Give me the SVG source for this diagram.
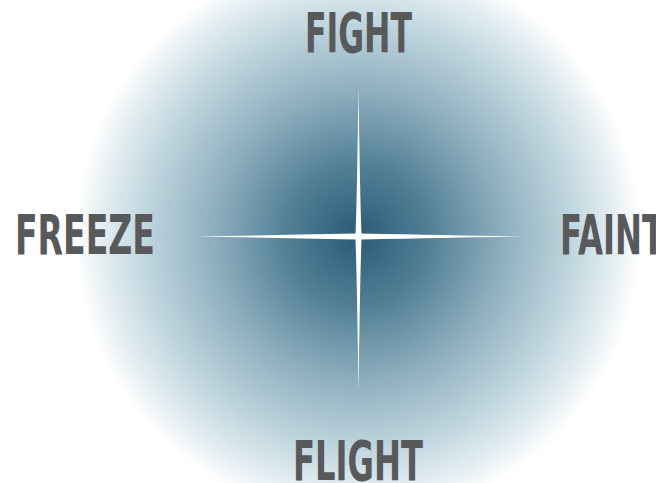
<svg xmlns="http://www.w3.org/2000/svg" width="656" height="483" viewBox="0 0 656 483">
<style>
.lbl{font-family:"Liberation Sans Narrow","DejaVu Sans Condensed","Liberation Sans",Arial,sans-serif;font-weight:bold;font-size:56px;fill:#58595b;font-stretch:condensed}
</style>
<defs>
<radialGradient id="glow" cx="358" cy="236" r="283" gradientUnits="userSpaceOnUse">
<stop offset="0" stop-color="#2a5b75"/>
<stop offset="0.25" stop-color="#527f96"/>
<stop offset="0.5" stop-color="#8badbd"/>
<stop offset="0.75" stop-color="#bfd5de"/>
<stop offset="0.9" stop-color="#e3edf1"/>
<stop offset="1" stop-color="#ffffff"/>
</radialGradient>
</defs>
<rect width="656" height="483" fill="#ffffff"/>
<circle cx="358" cy="236" r="283" fill="url(#glow)"/>
<g id="star">
<path d="M358.5,85 Q360,200 361.5,233.5 Q460,235.5 522,236.5 Q460,237.5 361.5,239.5 Q360,280 358.5,392 Q357,280 355.5,239.5 Q260,237.5 197,236.5 Q260,235.5 355.5,233.5 Q357,200 358.5,85 Z" fill="#ffffff"/>
</g>
<g id="fight"><text class="lbl" x="305" y="52" textLength="107" lengthAdjust="spacingAndGlyphs">FIGHT</text></g>
<g id="freeze"><text class="lbl" x="15" y="254" textLength="140" lengthAdjust="spacingAndGlyphs">FREEZE</text></g>
<g id="faint"><text class="lbl" x="560" y="254" textLength="104" lengthAdjust="spacingAndGlyphs">FAINT</text></g>
<g id="flight"><text class="lbl" x="293" y="480" textLength="130" lengthAdjust="spacingAndGlyphs">FLIGHT</text></g>
</svg>
